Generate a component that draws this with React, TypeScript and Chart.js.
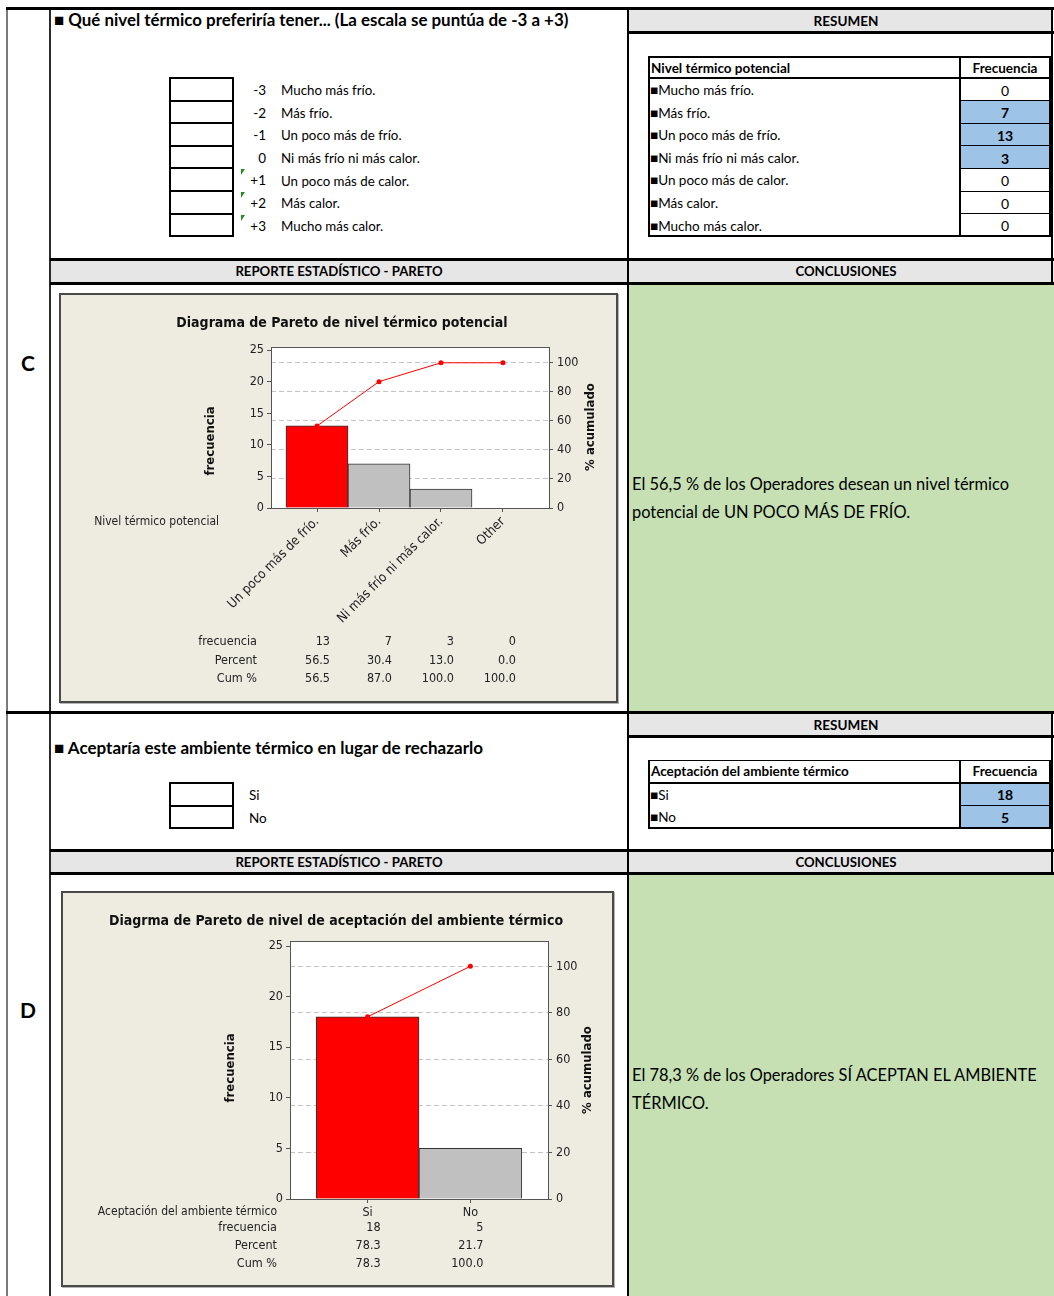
import React, { useEffect, useRef } from "react";
import { Chart, registerables } from "chart.js";

Chart.register(...registerables);

// ---------------- data ----------------
const escalaPuntos = ["-3", "-2", "-1", "0", "+1", "+2", "+3"];
const escalaTextos = [
  "Mucho más frío.",
  "Más frío.",
  "Un poco más de frío.",
  "Ni más frío ni más calor.",
  "Un poco más de calor.",
  "Más calor.",
  "Mucho más calor.",
];
const escalaFrecuencia = [0, 7, 13, 3, 0, 0, 0];

const nivelCategorias = ["Un poco más de frío.", "Más frío.", "Ni más frío ni más calor.", "Other"];
const nivelFrecuencia = [13, 7, 3, 0];
const nivelPercent = [56.5, 30.4, 13.0, 0.0];
const nivelCum = [56.5, 87.0, 100.0, 100.0];

const aceptOpciones = ["Si", "No"];
const aceptFrecuencia = [18, 5];
const aceptPercent = [78.3, 21.7];
const aceptCum = [78.3, 100.0];

const freqTicks = [0, 5, 10, 15, 20, 25];
const cumTicks = [0, 20, 40, 60, 80, 100];
const freqAxisMax = 25.5;

// ---------------- styles ----------------
const SHEET = "Lato, 'Open Sans', sans-serif";
const CHART_FONT = "'DejaVu Sans Condensed', 'DejaVu Sans', sans-serif";
const GRAY = "#e6e6e6";
const GREEN = "#c6e0b4";
const BLUE = "#9dc3e6";
const BEIGE = "#eeebe1";

type Rect = { x: number; y: number; w: number; h: number; c: string };
function R({ x, y, w, h, c }: Rect) {
  return <div style={{ position: "absolute", left: x, top: y, width: w, height: h, background: c }} />;
}

type TP = { x: number; y: number; text: string; size?: number; bold?: boolean; align?: "left" | "right" | "center" };
function T({ x, y, text, size = 14, bold = false, align = "left" }: TP) {
  const lh = size * 1.4;
  const st: React.CSSProperties = {
    position: "absolute",
    top: y - lh / 2,
    height: lh,
    lineHeight: lh + "px",
    fontSize: size,
    fontWeight: bold ? 700 : 400,
    whiteSpace: "nowrap",
    fontFamily: SHEET,
    color: "#000",
  };
  if (align === "left") st.left = x;
  else if (align === "right") {
    st.left = x - 500;
    st.width = 500;
    st.textAlign = "right";
  } else {
    st.left = x - 300;
    st.width = 600;
    st.textAlign = "center";
  }
  return <div style={st}>{text}</div>;
}

// ---------------- pareto chart ----------------
type ParetoProps = {
  width: number;
  height: number;
  plot: { left: number; top: number; right: number; bottom: number };
  yTitle: { x: number; y: number };
  y2Title: { x: number; y: number };
  categories: string[];
  freq: number[];
  percent: number[];
  cum: number[];
  rotate: number;
  xTickSize: number;
  xLabelHeight: number;
  xPad: number;
  title: string;
  titleX: number;
  titleY: number;
  axisLabel: string;
  axisLabelRight: number;
  axisLabelY: number;
  rowLabelRight: number;
  rowYs: number[];
  valueOffset: number;
};

function ParetoChart(p: ParetoProps) {
  const ref = useRef<HTMLCanvasElement>(null);
  useEffect(() => {
    const canvas = ref.current!;
    const total = p.freq.reduce((a, b) => a + b, 0);
    const yW = 40;
    const y2W = 40;
    const xH = p.xLabelHeight;
    const tickFont = { family: CHART_FONT, size: 12.5 };
    const rows = [
      { label: "frecuencia", values: p.freq.map((v) => String(v)) },
      { label: "Percent", values: p.percent.map((v) => v.toFixed(1)) },
      { label: "Cum %", values: p.cum.map((v) => v.toFixed(1)) },
    ];
    const decor = {
      id: "paretoDecor",
      beforeDraw(chart: any) {
        const { ctx, chartArea: a } = chart;
        ctx.save();
        ctx.fillStyle = "#ffffff";
        ctx.fillRect(a.left, a.top, a.right - a.left, a.bottom - a.top);
        ctx.restore();
      },
      afterDraw(chart: any) {
        const { ctx, chartArea: a } = chart;
        ctx.save();
        ctx.strokeStyle = "#555";
        ctx.lineWidth = 1;
        ctx.beginPath();
        ctx.moveTo(a.left, a.top + 0.5);
        ctx.lineTo(a.right, a.top + 0.5);
        ctx.stroke();
        ctx.fillStyle = "#111";
        ctx.textBaseline = "middle";
        ctx.textAlign = "center";
        ctx.font = `bold 14px ${CHART_FONT}`;
        ctx.fillText(p.title, p.titleX, p.titleY);
        // axis titles, both reading bottom-to-top
        ctx.font = `bold 13px ${CHART_FONT}`;
        [
          { t: "frecuencia", pos: p.yTitle },
          { t: "% acumulado", pos: p.y2Title },
        ].forEach(({ t, pos }) => {
          ctx.save();
          ctx.translate(pos.x, pos.y);
          ctx.rotate(-Math.PI / 2);
          ctx.fillText(t, 0, 0);
          ctx.restore();
        });
        ctx.font = `12px ${CHART_FONT}`;
        ctx.textAlign = "right";
        ctx.fillStyle = "#222";
        ctx.fillText(p.axisLabel, p.axisLabelRight, p.axisLabelY);
        ctx.font = `12.5px ${CHART_FONT}`;
        const xs = chart.scales.x;
        rows.forEach((row, r) => {
          ctx.fillText(row.label, p.rowLabelRight, p.rowYs[r]);
          row.values.forEach((v, i) => {
            ctx.fillText(v, xs.getPixelForValue(i) + p.valueOffset, p.rowYs[r]);
          });
        });
        ctx.restore();
      },
    };
    const chart = new Chart(canvas, {
      type: "bar",
      data: {
        datasets: [
          {
            type: "line",
            label: "Cum %",
            data: p.cum.map((v, i) => ({ x: i, y: v })),
            yAxisID: "y2",
            xAxisID: "x",
            borderColor: "#ff0000",
            backgroundColor: "#ff0000",
            borderWidth: 1,
            pointRadius: 2.5,
            pointHoverRadius: 2.5,
            pointBorderWidth: 0,
            pointBackgroundColor: "#ff0000",
            order: 0,
          } as any,
          {
            type: "bar",
            label: "frecuencia",
            data: p.freq.map((v, i) => ({ x: i, y: v })),
            yAxisID: "y",
            xAxisID: "x",
            backgroundColor: p.freq.map((_, i) => (i === 0 ? "#ff0000" : "#c0c0c0")),
            borderColor: "#333333",
            borderWidth: 1,
            barPercentage: 1,
            categoryPercentage: 1,
            order: 1,
          } as any,
        ],
      },
      options: {
        responsive: false,
        animation: false,
        events: [],
        layout: {
          padding: {
            left: p.plot.left - yW,
            right: p.width - p.plot.right - y2W,
            top: p.plot.top,
            bottom: p.height - p.plot.bottom - xH,
          },
        },
        plugins: { legend: { display: false }, tooltip: { enabled: false }, title: { display: false } },
        scales: {
          x: {
            type: "linear",
            position: "bottom",
            offset: false,
            min: -p.xPad,
            max: p.categories.length - 1 + p.xPad,
            afterBuildTicks: (s: any) => {
              s.ticks = p.categories.map((_, i) => ({ value: i }));
            },
            afterFit: (s: any) => {
              s.height = xH;
            },
            ticks: {
              autoSkip: false,
              minRotation: p.rotate,
              maxRotation: p.rotate,
              padding: 2,
              color: "#222",
              font: { family: CHART_FONT, size: p.xTickSize },
              callback: (_v: any, i: number) => p.categories[i],
            },
            grid: { display: true, offset: false, drawOnChartArea: false, drawTicks: true, tickLength: 4, color: "#555" },
            border: { color: "#555", width: 1 },
          } as any,
          y: {
            type: "linear",
            position: "left",
            min: 0,
            max: freqAxisMax,
            afterBuildTicks: (s: any) => {
              s.ticks = freqTicks.map((v) => ({ value: v }));
            },
            afterFit: (s: any) => {
              s.width = yW;
            },
            ticks: { padding: 3, color: "#222", font: tickFont },
            grid: { display: true, drawOnChartArea: false, drawTicks: true, tickLength: 4, color: "#555" },
            border: { color: "#555", width: 1 },
          } as any,
          y2: {
            type: "linear",
            position: "right",
            min: 0,
            max: (freqAxisMax / total) * 100,
            afterBuildTicks: (s: any) => {
              s.ticks = cumTicks.map((v) => ({ value: v }));
            },
            afterFit: (s: any) => {
              s.width = y2W;
            },
            ticks: { padding: 4, color: "#222", font: tickFont },
            grid: {
              display: true,
              drawOnChartArea: true,
              drawTicks: true,
              tickLength: 4,
              color: (c: any) => (c.tick && c.tick.value === 0 ? "rgba(0,0,0,0)" : "#c4c4c4"),
              tickColor: "#555",
            },
            border: { color: "#555", width: 1, dash: [5, 3] },
          } as any,
        },
      },
      plugins: [decor],
    });
    return () => chart.destroy();
  }, []);
  return (
    <canvas
      ref={ref}
      width={p.width}
      height={p.height}
      style={{ position: "absolute", left: 0, top: 0, width: p.width, height: p.height }}
    />
  );
}

// ---------------- app ----------------
export default function App() {
  const rowH = 22.6;
  const scaleTop = 77.5;
  const scaleRows = escalaPuntos.map((_, i) => scaleTop + i * rowH);
  const t1Top = 56;
  const t1HeadBottom = 78;
  const t1Rows = escalaTextos.map((_, i) => t1HeadBottom + i * rowH);
  const t1Bottom = t1HeadBottom + escalaTextos.length * rowH;

  const accTop = 782.5;
  const accRows = aceptOpciones.map((_, i) => accTop + i * rowH);
  const t2Top = 759.5;
  const t2HeadBottom = 782.5;
  const t2Rows = aceptOpciones.map((_, i) => t2HeadBottom + i * rowH);
  const t2Bottom = t2HeadBottom + aceptOpciones.length * rowH;

  return (
    <div
      style={{
        position: "absolute",
        left: 0,
        top: 0,
        width: 1054,
        height: 1296,
        overflow: "hidden",
        background: "#fff",
        fontFamily: SHEET,
      }}
    >
      {/* fills */}
      <R x={629} y={10} w={422} h={21} c={GRAY} />
      <R x={51} y={261} w={1003} h={21} c={GRAY} />
      <R x={629} y={284} w={425} h={427} c={GREEN} />
      <R x={629} y={714} w={422} h={21} c={GRAY} />
      <R x={51} y={852} w={1003} h={20} c={GRAY} />
      <R x={629} y={875} w={425} h={421} c={GREEN} />

      {/* grid lines */}
      <R x={6} y={8} w={2} h={1288} c="#7a7a7a" />
      <R x={49} y={8} w={2} h={1288} c="#2a2a2a" />
      <R x={627} y={8} w={2} h={1288} c="#000" />
      <R x={1051} y={8} w={2} h={276} c="#000" />
      <R x={1051} y={712} w={2} h={162} c="#000" />
      <R x={6} y={7} w={1048} h={3} c="#000" />
      <R x={628} y={31} w={426} h={2.5} c="#000" />
      <R x={50} y={258} w={1004} h={3} c="#000" />
      <R x={50} y={282} w={1004} h={2.5} c="#000" />
      <R x={6} y={711} w={1048} h={3} c="#000" />
      <R x={628} y={735} w={426} h={2.5} c="#000" />
      <R x={50} y={849} w={1004} h={3} c="#000" />
      <R x={50} y={872} w={1004} h={3} c="#000" />

      {/* section letters */}
      <T x={28} y={363} text="C" size={21} bold align="center" />
      <T x={28} y={1010} text="D" size={21} bold align="center" />

      {/* ---- section C ---- */}
      <T x={54} y={20} text="■ Qué nivel térmico preferiría tener... (La escala se puntúa de -3 a +3)" size={16.9} bold />
      <T x={846} y={21} text="RESUMEN" size={13.5} bold align="center" />

      {/* scale boxes */}
      <R x={169} y={scaleTop} w={2} h={rowH * escalaPuntos.length + 1} c="#000" />
      <R x={232} y={scaleTop} w={2} h={rowH * escalaPuntos.length + 1} c="#000" />
      {[...scaleRows, scaleTop + escalaPuntos.length * rowH].map((y, i) => (
        <R key={"sl" + i} x={169} y={y - 0.5} w={65} h={2} c="#000" />
      ))}
      {escalaPuntos.map((pt, i) => (
        <T key={"sp" + i} x={266} y={scaleRows[i] + 13} text={pt} size={13.5} align="right" />
      ))}
      {escalaTextos.map((tx, i) => (
        <T key={"st" + i} x={281} y={scaleRows[i] + 13} text={tx} size={13.3} />
      ))}
      {escalaPuntos.map((pt, i) =>
        pt.startsWith("+") ? (
          <div
            key={"tri" + i}
            style={{
              position: "absolute",
              left: 241,
              top: scaleRows[i] + 1.5,
              width: 0,
              height: 0,
              borderTop: "6px solid #1f8f1f",
              borderRight: "4px solid transparent",
            }}
          />
        ) : null
      )}

      {/* resumen table 1 */}
      {t1Rows.map((y, i) =>
        escalaFrecuencia[i] > 0 ? <R key={"b1" + i} x={960} y={y} w={90} h={rowH} c={BLUE} /> : null
      )}
      <R x={648} y={t1Top} w={403} h={1.5} c="#000" />
      <R x={648} y={t1HeadBottom - 1} w={403} h={2} c="#000" />
      <R x={648} y={t1Bottom - 1} w={403} h={2} c="#000" />
      <R x={648} y={t1Top} w={2} h={t1Bottom - t1Top + 1} c="#000" />
      <R x={1049} y={t1Top} w={2} h={t1Bottom - t1Top + 1} c="#000" />
      <R x={959} y={t1Top} w={1.5} h={t1Bottom - t1Top + 1} c="#000" />
      {t1Rows.slice(1).map((y, i) => (
        <R key={"h1" + i} x={959} y={y - 0.5} w={92} h={1} c="#000" />
      ))}
      <T x={651} y={68} text="Nivel térmico potencial" size={13.5} bold />
      <T x={1005} y={68} text="Frecuencia" size={13.5} bold align="center" />
      {escalaTextos.map((tx, i) => (
        <T key={"r1" + i} x={650} y={t1Rows[i] + 12.5} text={"■" + tx} size={13.5} />
      ))}
      {escalaFrecuencia.map((v, i) => (
        <T key={"v1" + i} x={1005} y={t1Rows[i] + 12.5} text={String(v)} size={14} bold={v > 0} align="center" />
      ))}

      <T x={339} y={271.5} text="REPORTE ESTADÍSTICO - PARETO" size={13.2} bold align="center" />
      <T x={846} y={271.5} text="CONCLUSIONES" size={13.2} bold align="center" />

      {/* chart C */}
      <div
        style={{
          position: "absolute",
          left: 59,
          top: 293,
          width: 559,
          height: 410,
          border: "2px solid #4a4a4a",
          boxSizing: "border-box",
          background: BEIGE,
          boxShadow: "1px 1px 0 #b5b5b5",
        }}
      >
        <ParetoChart
          width={555}
          height={406}
          plot={{ left: 210, top: 52, right: 488, bottom: 213 }}
          yTitle={{ x: 150, y: 146 }}
          y2Title={{ x: 530, y: 132 }}
          categories={nivelCategorias}
          freq={nivelFrecuencia}
          percent={nivelPercent}
          cum={nivelCum}
          rotate={45}
          xTickSize={13.2}
          xLabelHeight={140}
          xPad={0.742}
          title="Diagrama de Pareto de nivel térmico potencial"
          titleX={281}
          titleY={28}
          axisLabel="Nivel térmico potencial"
          axisLabelRight={158}
          axisLabelY={227}
          rowLabelRight={196}
          rowYs={[347, 366, 384]}
          valueOffset={13}
        />
      </div>

      <T x={632} y={484} text="El 56,5 % de los Operadores desean un nivel térmico" size={16.4} />
      <T x={632} y={512} text="potencial de UN POCO MÁS DE FRÍO." size={16.4} />

      {/* ---- section D ---- */}
      <T x={846} y={725} text="RESUMEN" size={13.5} bold align="center" />
      <T x={54} y={748} text="■ Aceptaría este ambiente térmico en lugar de rechazarlo" size={17} bold />

      <R x={169} y={accTop} w={2} h={rowH * aceptOpciones.length + 1} c="#000" />
      <R x={232} y={accTop} w={2} h={rowH * aceptOpciones.length + 1} c="#000" />
      {[...accRows, accTop + aceptOpciones.length * rowH].map((y, i) => (
        <R key={"al" + i} x={169} y={y - 0.5} w={65} h={2} c="#000" />
      ))}
      {aceptOpciones.map((tx, i) => (
        <T key={"ao" + i} x={249} y={accRows[i] + 13} text={tx} size={13.5} />
      ))}

      {t2Rows.map((y, i) => (
        <R key={"b2" + i} x={960} y={y} w={90} h={rowH} c={BLUE} />
      ))}
      <R x={648} y={t2Top} w={403} h={1.5} c="#000" />
      <R x={648} y={t2HeadBottom - 1} w={403} h={2} c="#000" />
      <R x={648} y={t2Bottom - 1} w={403} h={2} c="#000" />
      <R x={648} y={t2Top} w={2} h={t2Bottom - t2Top + 1} c="#000" />
      <R x={1049} y={t2Top} w={2} h={t2Bottom - t2Top + 1} c="#000" />
      <R x={959} y={t2Top} w={1.5} h={t2Bottom - t2Top + 1} c="#000" />
      {t2Rows.slice(1).map((y, i) => (
        <R key={"h2" + i} x={959} y={y - 0.5} w={92} h={1} c="#000" />
      ))}
      <T x={651} y={771.5} text="Aceptación del ambiente térmico" size={13.5} bold />
      <T x={1005} y={771.5} text="Frecuencia" size={13.5} bold align="center" />
      {aceptOpciones.map((tx, i) => (
        <T key={"r2" + i} x={650} y={t2Rows[i] + 12.5} text={"■" + tx} size={13.5} />
      ))}
      {aceptFrecuencia.map((v, i) => (
        <T key={"v2" + i} x={1005} y={t2Rows[i] + 12.5} text={String(v)} size={14} bold align="center" />
      ))}

      <T x={339} y={862.5} text="REPORTE ESTADÍSTICO - PARETO" size={13.2} bold align="center" />
      <T x={846} y={862.5} text="CONCLUSIONES" size={13.2} bold align="center" />

      {/* chart D */}
      <div
        style={{
          position: "absolute",
          left: 61,
          top: 891,
          width: 553,
          height: 396,
          border: "2px solid #4a4a4a",
          boxSizing: "border-box",
          background: BEIGE,
          boxShadow: "1px 1px 0 #b5b5b5",
        }}
      >
        <ParetoChart
          width={549}
          height={392}
          plot={{ left: 227, top: 48, right: 485, bottom: 306 }}
          yTitle={{ x: 168, y: 175 }}
          y2Title={{ x: 525, y: 177 }}
          categories={aceptOpciones}
          freq={aceptFrecuencia}
          percent={aceptPercent}
          cum={aceptCum}
          rotate={0}
          xTickSize={12.5}
          xLabelHeight={20}
          xPad={0.755}
          title="Diagrma de Pareto de nivel de aceptación del ambiente térmico"
          titleX={273}
          titleY={28}
          axisLabel="Aceptación del ambiente térmico"
          axisLabelRight={214}
          axisLabelY={319}
          rowLabelRight={214}
          rowYs={[335, 353, 371]}
          valueOffset={13}
        />
      </div>

      <T x={632} y={1075} text="El 78,3 % de los Operadores  SÍ ACEPTAN EL AMBIENTE" size={16.4} />
      <T x={632} y={1103} text="TÉRMICO." size={16.4} />
    </div>
  );
}
